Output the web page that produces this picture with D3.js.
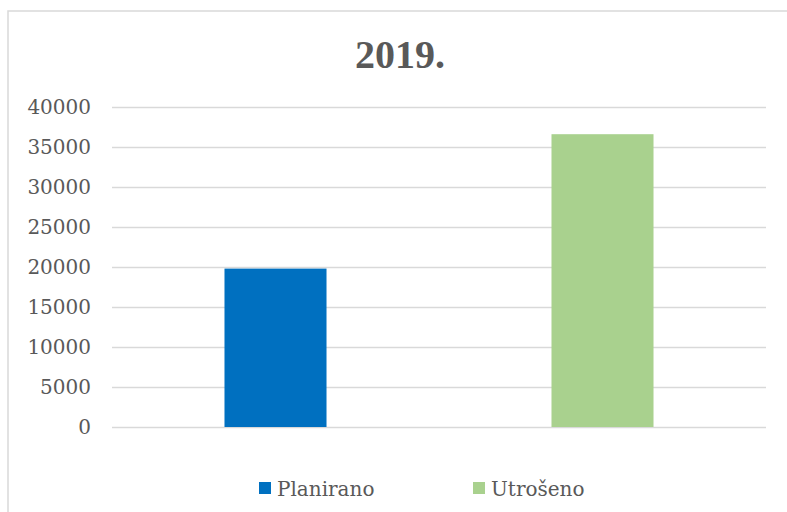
<!DOCTYPE html>
<html>
<head>
<meta charset="utf-8">
<script src="https://cdn.jsdelivr.net/npm/d3@7"></script>
<style>
  body { margin: 0; background: #fff; }
  svg { display: block; }
</style>
</head>
<body>
<svg id="chart" width="787" height="512"></svg>
<script>
// data
const title = "2019.";
const categories = ["Planirano", "Utrošeno"];
const values = [19800, 36600];
const colors = ["#0070C0", "#A9D18E"];
const yTicks = [0, 5000, 10000, 15000, 20000, 25000, 30000, 35000, 40000];

const svg = d3.select("#chart");
const margin = { left: 112, right: 21, top: 107, bottom: 85 };
const width = +svg.attr("width"), height = +svg.attr("height");
const textColor = "#595959";
const font = "'DejaVu Serif', serif";

// outer chart border (left + top only visible)
svg.append("path")
  .attr("d", "M8,512V11H787")
  .attr("fill", "none")
  .attr("stroke", "#d9d9d9")
  .attr("stroke-width", 1.5);

// title
svg.append("text")
  .attr("x", 400)
  .attr("y", 68)
  .attr("text-anchor", "middle")
  .attr("font-family", "'Liberation Serif', serif")
  .attr("font-weight", "bold")
  .attr("font-size", 40)
  .attr("fill", textColor)
  .text(title);

const x = d3.scaleBand()
  .domain(categories)
  .range([margin.left, width - margin.right])
  .paddingInner(0.688)
  .paddingOuter(0.344);

const y = d3.scaleLinear()
  .domain([0, 40000])
  .range([height - margin.bottom, margin.top]);

// gridlines + y labels
const yAxis = svg.append("g")
  .attr("transform", `translate(${margin.left},0)`)
  .call(d3.axisLeft(y).tickValues(yTicks).tickFormat(d3.format("d"))
    .tickSize(-(width - margin.left - margin.right)).tickPadding(21));
yAxis.select(".domain").remove();
yAxis.selectAll(".tick line")
  .attr("stroke", "#d9d9d9")
  .attr("stroke-width", 1.5);
yAxis.selectAll(".tick text")
  .attr("font-family", font)
  .attr("font-size", 20)
  .attr("fill", textColor);

// bars
svg.append("g")
  .selectAll("rect")
  .data(categories)
  .join("rect")
    .attr("x", d => x(d))
    .attr("width", x.bandwidth())
    .attr("y", (d, i) => y(values[i]))
    .attr("height", (d, i) => y(0) - y(values[i]))
    .attr("fill", (d, i) => colors[i]);

// legend
const legendX = [259, 473];
const legend = svg.append("g")
  .selectAll("g")
  .data(categories)
  .join("g")
    .attr("transform", (d, i) => `translate(${legendX[i]},482)`);
legend.append("rect")
  .attr("width", 12)
  .attr("height", 12)
  .attr("fill", (d, i) => colors[i]);
legend.append("text")
  .attr("x", 18)
  .attr("y", 14)
  .attr("font-family", font)
  .attr("font-size", 20)
  .attr("fill", textColor)
  .text(d => d);
</script>
</body>
</html>
